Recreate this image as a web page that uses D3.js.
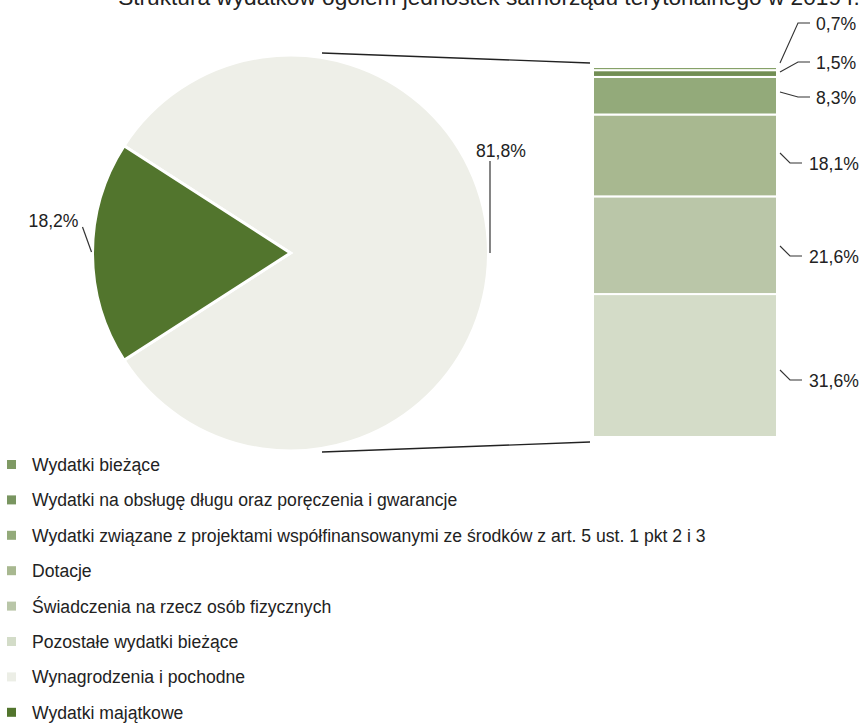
<!DOCTYPE html>
<html><head><meta charset="utf-8">
<script src="https://cdn.jsdelivr.net/npm/d3@7/dist/d3.min.js"></script>
<style>
body{margin:0;background:#fff;}
text{font-family:"Liberation Sans",Arial,sans-serif;fill:#222;}
</style></head>
<body>
<svg id="chart" width="863" height="728"></svg>
<script>
const title = "Struktura wydatków ogółem jednostek samorządu terytorialnego w 2019 r.";
const legendLabels = [
  "Wydatki bieżące",
  "Wydatki na obsługę długu oraz poręczenia i gwarancje",
  "Wydatki związane z projektami współfinansowanymi ze środków z art. 5 ust. 1 pkt 2 i 3",
  "Dotacje",
  "Świadczenia na rzecz osób fizycznych",
  "Pozostałe wydatki bieżące",
  "Wynagrodzenia i pochodne",
  "Wydatki majątkowe"
];
const legendColors = ["#7f9a64","#799560","#93aa7a","#a8b890","#b9c6a8","#d3dcc8","#eceee6","#52752d"];
// pie: big (current) slice, small (capital) slice
const pieValues = [81.8, 18.2];
const pieLabels = ["81,8%","18,2%"];
const pieColors = ["#eeefe8","#52752d"];
// bar breakdown, top to bottom
const barValues = [0.7, 1.5, 8.3, 18.1, 21.6, 31.6];
const barLabels = ["0,7%","1,5%","8,3%","18,1%","21,6%","31,6%"];
const barColors = ["#86a168","#728e54","#93aa7a","#a8b890","#bac6a8","#d4dcc8"];

const svg = d3.select("#chart");
const FS = "17.6px";

// title (cut at top as in reference)
const tt = svg.append("text").attr("x", 489).attr("y", 5).attr("text-anchor","middle")
  .style("font-size","17px").text(title);
const tl = tt.node().getComputedTextLength();
tt.style("font-size", (17*742/tl).toFixed(2)+"px");

// ---- pie ----
const cx = 290.5, cy = 253, R = 198;
const smallFrac = pieValues[1] / d3.sum(pieValues);
const startA = 1.5*Math.PI + Math.PI*smallFrac - 2*Math.PI;
const pie = d3.pie().sort(null).startAngle(startA).endAngle(startA + 2*Math.PI);
const arcs = pie(pieValues);
const arcGen = d3.arc().innerRadius(0).outerRadius(R);
const gp = svg.append("g").attr("transform",`translate(${cx},${cy})`);
gp.selectAll("path").data(arcs).join("path")
  .attr("d", arcGen).attr("fill", (d,i)=>pieColors[i])
  .attr("stroke","#fff").attr("stroke-width",3).attr("stroke-linejoin","miter");

// pie labels with leader lines
gp.append("line").attr("x1",199.5).attr("y1",0).attr("x2",199.5).attr("y2",-92)
  .attr("stroke","#333").attr("stroke-width",1.2);
gp.append("text").attr("x",210.5).attr("y",-96).attr("text-anchor","middle")
  .style("font-size",FS).text(pieLabels[0]);
gp.append("line").attr("x1",-199).attr("y1",-1).attr("x2",-208).attr("y2",-26)
  .attr("stroke","#333").attr("stroke-width",1.2);
gp.append("text").attr("x",-212).attr("y",-26).attr("text-anchor","end")
  .style("font-size",FS).text(pieLabels[1]);

// ---- bar ----
const bx0 = 593, bx1 = 777, byTop = 67, byBot = 437;
const total = d3.sum(barValues);
const y = d3.scaleLinear().domain([0,total]).range([byBot, byTop]);
const rev = barValues.map((v,i)=>({v,i})).reverse();
let acc = 0;
const segs = rev.map(d=>{ const s={...d, y0:acc, y1:acc+d.v}; acc+=d.v; return s; });
const gb = svg.append("g");
gb.selectAll("rect").data(segs).join("rect")
  .attr("x",bx0).attr("width",bx1-bx0)
  .attr("y",d=>y(d.y1)).attr("height",d=>y(d.y0)-y(d.y1))
  .attr("fill",d=>barColors[d.i]).attr("stroke","#fff").attr("stroke-width",2);

// connector lines
const ang = Math.asin(31.5/R);
const px = cx + R*Math.sin(ang);
svg.append("line").attr("x1",px).attr("y1",53).attr("x2",bx0-3).attr("y2",63)
  .attr("stroke","#222").attr("stroke-width",1.3);
svg.append("line").attr("x1",px).attr("y1",452).attr("x2",bx0-3).attr("y2",442)
  .attr("stroke","#222").attr("stroke-width",1.3);

// bar labels (leader line geometry is layout)
const labelY = [23, 62, 97, 163, 256, 380];
const anchorY = [63, 72, 92, 153, 246, 370];
segs.forEach(s=>{
  const i = s.i;
  const ly = labelY[i], ay = anchorY[i];
  const pts = i < 3 ? [[780,ay],[798,ly],[810,ly]] : [[780,ay],[790,ly],[802,ly]];
  gb.append("path").attr("d", d3.line()(pts)).attr("fill","none")
    .attr("stroke","#333").attr("stroke-width",1.1);
  gb.append("text").attr("x",(i<3?816:809)).attr("y",ly+7).style("font-size",FS).text(barLabels[i]);
});

// ---- legend ----
const gl = svg.append("g");
legendLabels.forEach((t,i)=>{
  const by = 471 + i*35.4;
  gl.append("rect").attr("x",7).attr("y",by-11).attr("width",9).attr("height",9).attr("fill",legendColors[i]);
  gl.append("text").attr("x",32).attr("y",by).style("font-size",FS).text(t);
});
</script>
</body></html>
